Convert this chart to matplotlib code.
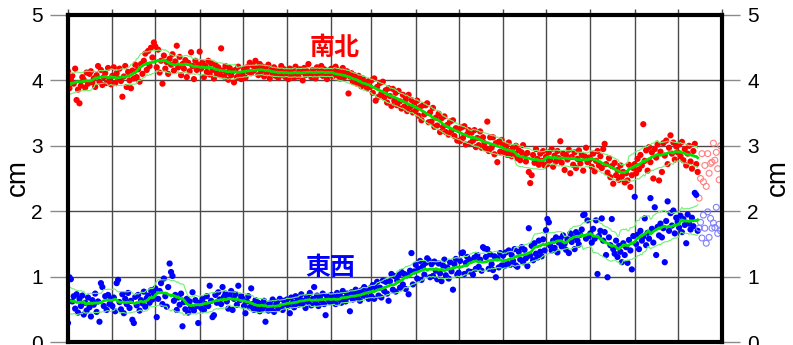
import numpy as np
import pandas as pd
import matplotlib
matplotlib.use("Agg")
import matplotlib.pyplot as plt

plt.rcParams["font.family"] = ["Liberation Sans", "DejaVu Sans"]

# Daily displacement (cm), north-south component, from 2022-08-01
ns_cm = [
    # Aug
    4.14, 3.88, 4.02, 4.07, 3.95, 4.18, 3.70, 3.86, 3.65, 3.92, 4.05, 4.01, 3.89, 4.12, 3.95, 4.10,
    4.14, 3.97, 4.03, 3.90, 4.08, 4.22, 3.98, 4.16, 3.93, 4.05, 4.11, 3.96, 4.19, 4.02, 3.94,
    # Sep
    4.07, 4.20, 3.96, 4.11, 4.03, 4.18, 3.99, 3.75, 4.06, 4.22, 3.90, 4.13, 4.00, 3.88, 4.15,
    4.03, 4.24, 4.05, 4.17, 3.98, 4.25, 4.10, 4.30, 4.41, 4.16, 4.45, 4.22, 4.50, 4.35, 4.58,
    # Oct
    4.52, 4.20, 4.47, 4.12, 4.30, 3.95, 4.38, 4.18, 4.28, 4.10, 4.33, 4.24, 4.40, 4.15, 4.29, 4.53,
    4.20, 4.36, 4.08, 4.25, 4.18, 4.31, 4.05, 4.27, 4.14, 4.43, 4.22, 4.02, 4.30, 4.16, 4.24,
    # Nov
    4.44, 4.18, 4.27, 4.05, 4.22, 4.13, 4.30, 4.09, 4.26, 4.16, 4.03, 4.24, 4.11, 4.20, 4.08,
    4.49, 4.15, 4.06, 4.22, 4.12, 4.01, 4.19, 4.08, 4.14, 3.97, 4.16, 4.05, 4.21, 4.10, 4.02,
    # Dec
    4.09, 4.17, 4.04, 4.20, 4.13, 4.27, 4.11, 4.23, 4.15, 4.30, 4.19, 4.08, 4.25, 4.14, 4.21, 4.06,
    4.18, 4.12, 4.24, 4.03, 4.16, 4.10, 4.20, 4.07, 4.15, 4.04, 4.13, 4.22, 4.08, 4.17, 4.05,
    # Jan
    4.12, 4.02, 4.18, 4.09, 4.15, 4.04, 4.21, 4.11, 4.06, 4.17, 4.13, 4.00, 4.19, 4.08, 4.14, 4.25,
    4.10, 4.05, 4.16, 4.12, 4.03, 4.20, 4.09, 4.14, 4.22, 4.07, 4.17, 4.11, 4.02, 4.15, 4.09,
    # Feb
    4.18, 4.06, 4.13, 4.21, 4.08, 4.15, 4.03, 4.12, 4.19, 4.05, 4.10, 4.14, 3.80, 4.06,
    4.11, 3.98, 4.08, 4.02, 3.95, 4.07, 3.99, 3.91, 4.03, 3.94, 3.97, 3.88, 3.99, 3.90,
    # Mar
    4.00, 3.81, 4.03, 3.69, 3.90, 3.75, 3.96, 3.80, 3.98, 3.74, 3.85, 3.66, 3.88, 3.76, 3.61, 3.87,
    3.69, 3.81, 3.62, 3.84, 3.68, 3.57, 3.78, 3.60, 3.71, 3.53, 3.78, 3.59, 3.70, 3.51, 3.66,
    # Apr
    3.54, 3.69, 3.46, 3.59, 3.39, 3.62, 3.48, 3.62, 3.65, 3.36, 3.51, 3.37, 3.58, 3.29, 3.43,
    3.31, 3.49, 3.21, 3.42, 3.29, 3.45, 3.21, 3.32, 3.17, 3.37, 3.23, 3.39, 3.15, 3.27, 3.08,
    # May
    3.25, 3.07, 3.28, 3.12, 3.30, 3.02, 3.18, 3.24, 3.04, 3.20, 3.08, 3.24, 2.98, 3.12, 3.01, 3.22,
    2.97, 3.13, 3.04, 2.96, 3.37, 2.92, 3.13, 2.97, 3.13, 2.87, 3.04, 2.75, 3.06, 2.91, 3.09,
    # Jun
    3.02, 2.90, 2.98, 2.86, 3.05, 2.92, 2.84, 2.97, 2.88, 3.00, 2.81, 2.93, 2.78, 2.90, 3.01,
    2.85, 2.76, 2.89, 2.60, 2.43, 2.55, 2.86, 2.74, 2.95, 2.80, 2.71, 2.88, 2.77, 2.92, 2.70,
    # Jul
    2.83, 2.72, 2.90, 2.78, 2.95, 2.68, 2.85, 2.76, 2.92, 2.81, 3.07, 2.74, 2.88, 2.63, 2.86, 2.79,
    2.94, 2.58, 2.83, 2.71, 2.90, 2.66, 2.80, 2.93, 2.73, 2.86, 2.62, 2.84, 2.97, 2.75, 2.82,
    # Aug
    2.80, 2.68, 2.88, 2.61, 2.77, 2.92, 2.70, 2.84, 2.66, 2.95, 3.03, 2.72, 2.59, 2.81, 2.52, 2.69,
    2.42, 2.74, 2.55, 2.63, 2.48, 2.70, 2.53, 2.60, 2.44, 2.58, 2.47, 2.71, 2.37, 2.55, 2.66,
    # Sep
    2.72, 2.58, 2.80, 2.64, 2.86, 2.70, 3.33, 2.77, 2.93, 2.62, 2.98, 2.75, 2.90, 2.50, 2.95,
    2.82, 3.02, 2.47, 2.91, 2.60, 3.04, 2.85, 3.08, 2.72, 2.97, 3.16, 2.88, 3.05, 2.79, 2.99,
    # Oct
    2.90, 3.02, 2.84, 3.06, 2.78, 2.95, 2.70, 2.88, 3.00, 2.76, 2.65, 2.92, 3.03, 2.72, 2.60,
]

# Daily displacement (cm), east-west component, same dates
ew_cm = [
    # Aug
    0.29, 0.99, 0.96, 0.62, 0.70, 0.51, 0.73, 0.45, 0.66, 0.55, 0.71, 0.42, 0.60, 0.48, 0.68, 0.53,
    0.39, 0.64, 0.57, 0.74, 0.46, 0.62, 0.31, 0.90, 0.84, 0.55, 0.70, 0.49, 0.72, 0.58, 0.66,
    # Sep
    0.55, 0.68, 0.47, 0.90, 0.95, 0.61, 0.50, 0.73, 0.44, 0.66, 0.58, 0.75, 0.52, 0.63, 0.34,
    0.29, 0.69, 0.56, 0.72, 0.48, 0.64, 0.59, 0.77, 0.54, 0.67, 0.71, 0.60, 0.79, 0.65, 0.74,
    # Oct
    0.82, 0.38, 0.66, 0.78, 0.90, 0.58, 0.97, 0.70, 0.54, 0.84, 1.20, 1.07, 1.01, 0.63, 0.72, 0.49,
    0.68, 0.57, 0.74, 0.24, 0.61, 0.50, 0.66, 0.45, 0.62, 0.53, 0.76, 0.48, 0.64, 0.55, 0.29,
    # Nov
    0.60, 0.52, 0.66, 0.49, 0.58, 0.70, 0.55, 0.86, 0.63, 0.38, 0.41, 0.72, 0.60, 0.76, 0.65,
    0.58, 0.84, 0.69, 0.74, 0.62, 0.51, 0.71, 0.78, 0.49, 0.66, 0.73, 0.57, 0.86, 0.64, 0.70,
    # Dec
    0.66, 0.55, 0.44, 0.62, 0.70, 0.53, 0.82, 0.58, 0.49, 0.64, 0.52, 0.60, 0.47, 0.57, 0.51, 0.63,
    0.31, 0.55, 0.48, 0.59, 0.50, 0.65, 0.46, 0.56, 0.61, 0.52, 0.66, 0.54, 0.49, 0.63, 0.58,
    # Jan
    0.65, 0.55, 0.44, 0.68, 0.60, 0.53, 0.70, 0.62, 0.57, 0.66, 0.73, 0.58, 0.63, 0.52, 0.69, 0.61,
    0.75, 0.56, 0.66, 0.84, 0.60, 0.71, 0.55, 0.68, 0.63, 0.74, 0.58, 0.41, 0.70, 0.65, 0.61,
    # Feb
    0.72, 0.63, 0.69, 0.58, 0.75, 0.66, 0.71, 0.60, 0.78, 0.67, 0.62, 0.74, 0.69, 0.47,
    0.76, 0.65, 0.72, 0.80, 0.68, 0.74, 0.63, 0.79, 0.71, 0.84, 0.70, 0.77, 0.66, 0.82,
    # Mar
    0.70, 0.87, 0.66, 0.83, 0.92, 0.71, 0.83, 0.68, 0.94, 0.78, 0.92, 0.74, 0.63, 0.93, 1.04, 0.80,
    1.01, 0.77, 0.94, 1.02, 0.83, 1.07, 0.88, 1.04, 0.81, 1.02, 0.73, 1.09, 1.36, 0.88, 1.08,
    # Apr
    1.18, 0.97, 1.12, 1.24, 0.95, 1.16, 1.03, 1.21, 1.28, 1.25, 0.99, 1.19, 1.01, 1.23, 1.09,
    0.96, 1.20, 1.05, 0.93, 1.17, 1.26, 1.02, 1.14, 0.97, 1.22, 1.08, 0.80, 1.19, 1.27, 1.03,
    # May
    1.06, 1.24, 1.36, 1.37, 1.04, 1.21, 1.30, 1.08, 1.25, 1.07, 1.03, 1.29, 1.12, 1.33, 1.15, 1.26,
    1.09, 1.45, 1.43, 1.30, 1.42, 1.12, 1.34, 1.19, 1.10, 1.31, 0.99, 1.28, 1.14, 1.36, 1.17,
    # Jun
    1.32, 1.16, 1.37, 1.20, 1.40, 1.18, 1.33, 1.24, 1.42, 1.17, 1.15, 1.38, 1.26, 1.45, 1.22,
    1.41, 1.28, 1.16, 1.74, 1.32, 1.47, 1.25, 1.51, 1.35, 1.29, 1.55, 1.38, 1.31, 1.57, 1.40,
    # Jul
    1.71, 1.88, 1.83, 1.47, 1.40, 1.55, 1.44, 1.60, 1.37, 1.52, 1.58, 1.46, 1.63, 1.50, 1.41, 1.57,
    1.36, 1.66, 1.53, 1.60, 1.42, 1.68, 1.55, 1.49, 1.64, 1.72, 1.94, 1.95, 1.58, 1.86, 1.62,
    # Aug
    1.66, 1.52, 1.73, 1.58, 1.86, 1.04, 1.62, 1.70, 1.89, 1.55, 1.68, 1.33, 0.99, 1.60, 1.48, 1.88,
    1.42, 1.35, 1.55, 1.30, 1.47, 1.38, 1.22, 1.51, 1.33, 1.45, 1.21, 1.56, 1.40, 1.11, 1.62,
    # Sep
    2.22, 1.50, 1.64, 1.42, 1.70, 1.55, 1.61, 1.89, 1.48, 1.67, 1.58, 2.20, 1.73, 1.52, 2.06,
    1.33, 1.76, 1.63, 1.81, 1.60, 1.74, 1.22, 1.85, 2.15, 1.70, 1.97, 1.78, 2.01, 1.66, 1.90,
    # Oct
    1.84, 1.75, 1.93, 1.68, 1.88, 1.79, 1.51, 1.95, 1.81, 1.72, 1.90, 1.77, 2.28, 2.25, 1.70,
]

# Preliminary values for the last days of the record
ns_open_cm = [2.20, 2.50, 2.88, 2.45, 2.70, 2.38, 2.88, 2.58, 2.73, 2.75, 3.04, 2.78, 2.90, 2.65, 2.48, 3.00]
ew_open_cm = [1.74, 1.83, 1.59, 1.94, 1.74, 1.51, 1.99, 1.60, 1.89, 1.74, 1.82, 1.75, 2.06, 1.66, 1.80, 1.70]

start_date = "2022-08-01"
end_date = "2023-11-01"
y_ticks = [0, 1, 2, 3, 4, 5]
ns_label = "南北"
ew_label = "東西"
unit_label = "cm"

dates = pd.date_range(start_date, periods=len(ns_cm), freq="D")
open_dates = pd.date_range(dates[-1] + pd.Timedelta(days=1), periods=len(ns_open_cm), freq="D")
month_starts = pd.date_range(start_date, end_date, freq="MS")
year_starts = [d for d in month_starts if d.month == 1]


def running_band(values, window=21):
    s = pd.Series(values, index=dates)
    r = s.rolling(window, center=True, min_periods=8)
    return r.mean(), r.std()


fig = plt.figure(figsize=(7.93, 3.45), dpi=100)
ax = fig.add_axes([68 / 793, 3 / 345, 654 / 793, 327 / 345])

GRID = "#4a4a4a"
MEAN_GREEN = "#00e000"
BAND_GREEN = "#70f070"

for vals, opens, col, open_col in [
    (ns_cm, ns_open_cm, "#ff0000", "#ff8080"),
    (ew_cm, ew_open_cm, "#0000ff", "#8080ff"),
]:
    ax.scatter(dates, vals, s=20, c=col, edgecolors="none", zorder=3)
    ax.scatter(open_dates, opens, s=18, facecolors="none", edgecolors=open_col,
               linewidths=0.8, zorder=3)
    mean, std = running_band(vals)
    ax.plot(dates, mean + std, color=BAND_GREEN, lw=0.8, zorder=4)
    ax.plot(dates, mean - std, color=BAND_GREEN, lw=0.8, zorder=4)
    ax.plot(dates, mean, color=MEAN_GREEN, lw=2.0, zorder=5)

ax.set_xlim(pd.Timestamp(start_date), pd.Timestamp(end_date))
ax.set_ylim(0, 5)
ax.set_yticks(y_ticks)
ax.set_xticks(month_starts)
ax.set_xticks(year_starts, minor=True)
ax.xaxis.set_ticks_position("top")
ax.tick_params(axis="x", which="major", direction="out", length=4.5, width=1,
               color=GRID, labeltop=False, labelbottom=False)
ax.tick_params(axis="x", which="minor", direction="out", length=7.5, width=1,
               color=GRID, labeltop=False, labelbottom=False)
ax.tick_params(axis="y", direction="out", length=13, width=1, color="#8a8a8a",
               labelsize=15, pad=5, left=True, right=True,
               labelleft=True, labelright=True)
ax.grid(True, which="major", color=GRID, lw=1, zorder=1)
ax.set_axisbelow(True)

for sp in ax.spines.values():
    sp.set_linewidth(3)
    sp.set_color("black")
    sp.set_zorder(6)

ax.text(0.407, 0.899, ns_label, transform=ax.transAxes, ha="center", va="center",
        color="#ff0000", fontsize=18, fontweight="bold",
        family=["Noto Sans CJK JP", "DejaVu Sans"], zorder=7)
ax.text(0.401, 0.226, ew_label, transform=ax.transAxes, ha="center", va="center",
        color="#0000ff", fontsize=18, fontweight="bold",
        family=["Noto Sans CJK JP", "DejaVu Sans"], zorder=7)

fig.text(18 / 793, 1 - 178 / 345, unit_label, rotation=90, ha="center", va="center", fontsize=20)
fig.text(778 / 793, 1 - 178 / 345, unit_label, rotation=90, ha="center", va="center", fontsize=20)

fig.savefig("out.png", dpi=100)
